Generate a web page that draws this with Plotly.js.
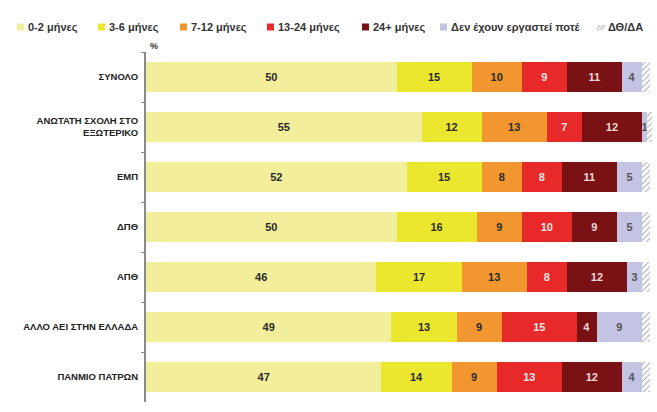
<!DOCTYPE html>
<html>
<head>
<meta charset="utf-8">
<script src="https://cdn.plot.ly/plotly-3.0.1.min.js"></script>
<style>html,body{margin:0;padding:0;background:#fff}#chart{width:657px;height:412px}</style>
</head>
<body>
<div id="chart"></div>
<script>
// ---- data ----
const categories = ["ΣΥΝΟΛΟ", "ΑΝΩΤΑΤΗ ΣΧΟΛΗ ΣΤΟ<br>ΕΞΩΤΕΡΙΚΟ", "ΕΜΠ", "ΔΠΘ", "ΑΠΘ", "ΑΛΛΟ ΑΕΙ ΣΤΗΝ ΕΛΛΑΔΑ", "ΠΑΝΜΙΟ ΠΑΤΡΩΝ"];
const m0_2   = [50, 55, 52, 50, 46, 49, 47];
const m3_6   = [15, 12, 15, 16, 17, 13, 14];
const m7_12  = [10, 13, 8, 9, 13, 9, 9];
const m13_24 = [9, 7, 8, 10, 8, 15, 13];
const m24p   = [11, 12, 11, 9, 12, 4, 12];
const never  = [4, 1, 5, 5, 3, 9, 4];
const dkna   = [1.5, 1, 1.5, 1.5, 1.5, 1.5, 1.5];
const seriesNames = ["0-2 μήνες", "3-6 μήνες", "7-12 μήνες", "13-24 μήνες", "24+ μήνες", "Δεν έχουν εργαστεί ποτέ", "ΔΘ/ΔΑ"];
const seriesColors = ["#F3EE9B", "#EAE72E", "#F2962F", "#E8292A", "#7A1114", "#C3C3E3", "#FFFFFF"];
const textColors = ["#2a2a2a", "#2a2a2a", "#2a2a2a", "#FBE3E3", "#F0D8D8", "#555555", "#555555"];

// ---- layout constants ----
const W = 657, H = 412;
const M = {l: 146, r: 5, t: 52, b: 10};
const PW = W - M.l - M.r, PH = H - M.t - M.b;
const px = x => (x - M.l) / PW;
const py = y => 1 - (y - M.t) / PH;
const FONT = "Liberation Sans, Arial, sans-serif";

const series = [m0_2, m3_6, m7_12, m13_24, m24p, never, dkna];
const traces = series.map((vals, i) => {
  const isDk = i === 6;
  return {
    type: "bar",
    orientation: "h",
    name: seriesNames[i],
    y: categories,
    x: vals,
    width: 0.6,
    text: isDk ? vals.map(() => "") : vals.map(String),
    textposition: "inside",
    insidetextanchor: "middle",
    constraintext: "none",
    textangle: 0,
    insidetextfont: {family: FONT, size: 11, color: textColors[i], weight: "bold"},
    marker: isDk ? {
      color: "#FFFFFF",
      pattern: {shape: "/", fgcolor: "#A8A8A8", bgcolor: "#FFFFFF", size: 4, solidity: 0.25},
      line: {width: 0}
    } : {color: seriesColors[i], line: {width: 0}},
    hoverinfo: "x+y+name",
    showlegend: false
  };
});

// custom legend (swatch + label), positions in px
const legSquareX = [17, 98, 180, 267, 362, 440, 597];
const legY = 27;
const shapes = [];
const annotations = [];
seriesNames.forEach((nm, i) => {
  const x0 = legSquareX[i];
  if (i < 6) {
    shapes.push({type: "rect", xref: "paper", yref: "paper",
      x0: px(x0), x1: px(x0 + 7), y0: py(legY + 3.5), y1: py(legY - 3.5),
      fillcolor: seriesColors[i], line: {width: 0}});
  } else {
    for (let k = 0; k < 3; k++) {
      shapes.push({type: "line", xref: "paper", yref: "paper",
        x0: px(x0 + k * 2.5), y0: py(legY + 3), x1: px(x0 + k * 2.5 + 3), y1: py(legY - 2),
        line: {color: "#B0B0B0", width: 1}});
    }
  }
  annotations.push({xref: "paper", yref: "paper", x: px(x0 + 9), y: py(legY),
    xanchor: "left", yanchor: "middle", showarrow: false, text: nm,
    font: {family: FONT, size: 11, color: "#333", weight: "bold"}});
});
annotations.push({xref: "paper", yref: "paper", x: px(154), y: py(46),
  xanchor: "center", yanchor: "middle", showarrow: false, text: "%",
  font: {family: FONT, size: 9, color: "#333", weight: "bold"}});

const layout = {
  width: W, height: H,
  margin: M,
  paper_bgcolor: "#fff", plot_bgcolor: "#fff",
  barmode: "stack",
  bargap: 0.4,
  showlegend: false,
  font: {family: FONT, color: "#222"},
  xaxis: {range: [0, 101], visible: false, fixedrange: true},
  yaxis: {
    type: "category",
    autorange: "reversed",
    showline: true, linecolor: "#8a8a8a", linewidth: 2,
    ticks: "outside", tickson: "boundaries", ticklen: 3, tickcolor: "#8a8a8a", tickwidth: 1,
    showgrid: false, zeroline: false,
    ticklabelstandoff: 4,
    tickfont: {family: FONT, size: 9.5, color: "#222", weight: "bold"},
    fixedrange: true
  },
  shapes: shapes,
  annotations: annotations
};

Plotly.newPlot("chart", traces, layout, {displayModeBar: false, staticPlot: true});
</script>
</body>
</html>
